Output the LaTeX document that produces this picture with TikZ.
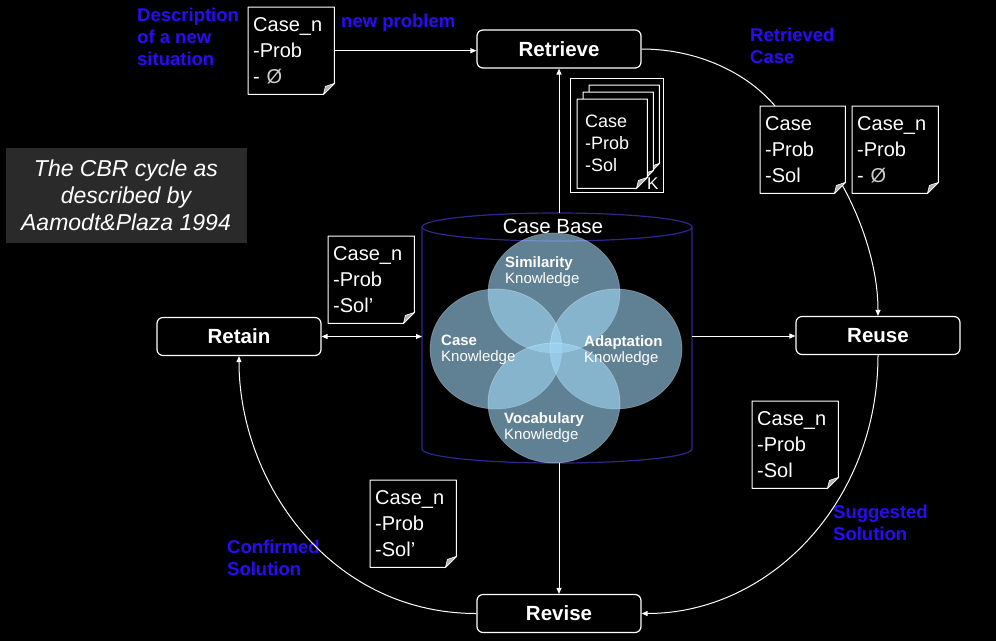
\documentclass[tikz,border=0pt]{standalone}
\usepackage{fontspec}
\setmainfont{Liberation Sans}
\usepackage{xcolor}
\usetikzlibrary{arrows.meta}
\usetikzlibrary{positioning}

\definecolor{labelblue}{RGB}{45,10,245}
\definecolor{basenavy}{RGB}{45,40,140}
\definecolor{knowblue}{RGB}{160,215,245}
\definecolor{titlegray}{RGB}{42,42,42}

\tikzset{
  phase/.style={draw=white, line width=1.2pt, rounded corners=6pt, fill=black, text=white,
    minimum width=164pt, minimum height=38pt, font=\fontsize{20.5}{24}\selectfont\bfseries},
  casedoc/.style={anchor=north west, fill=black, minimum width=86pt, minimum height=87pt,
    text width=76pt, inner xsep=5pt, inner ysep=0pt, align=left, text=white,
    font=\fontsize{20}{26}\selectfont},
  stackdoc/.style={anchor=north west, fill=black, minimum width=70pt, minimum height=89pt,
    text width=54pt, inner xsep=8pt, inner ysep=0pt, align=left, text=white,
    font=\fontsize{18}{22}\selectfont},
  bluelabel/.style={anchor=north west, inner sep=0pt, align=left, text=labelblue,
    font=\fontsize{18.5}{22}\selectfont\bfseries},
  know/.style={anchor=north west, inner sep=0pt, align=left, text=white,
    font=\fontsize{15}{16}\selectfont},
  knowball/.style={fill=knowblue, fill opacity=.6, draw=white, draw opacity=.3, line width=.7pt},
  flow/.style={draw=white, line width=1pt, -{Triangle[length=6pt,width=5pt]}},
}

% folded outline of a case sheet
\newcommand{\docedge}[1]{%
  \draw[white, line width=1pt, line join=round] (#1.north west) -- (#1.north east)
    -- ([yshift=11pt]#1.south east) -- ([xshift=-11pt]#1.south east) -- (#1.south west) -- cycle;
  \filldraw[fill=white!70!black, draw=white, line width=.6pt] ([yshift=11pt]#1.south east)
    -- ([xshift=-9pt,yshift=8pt]#1.south east) -- ([xshift=-11pt]#1.south east) -- cycle;
}
\newcommand{\emptysol}{{\color{white!80!black}Ø}}

\begin{document}
\begin{tikzpicture}[x=1pt,y=-1pt]
  \fill[black] (0,0) rectangle (996,641);

  % title
  \node[fill=titlegray, minimum width=241pt, minimum height=95pt, inner sep=0pt, align=center,
    text=white, font=\fontsize{23}{27}\selectfont\itshape] (title) at (126,195)
    {The CBR cycle as\\described by\\Aamodt\&Plaza 1994};

  % the four steps
  \node[phase] (retrieve) at (559,49) {Retrieve};
  \node[phase] (reuse) at (878,335.5) {Reuse};
  \node[phase] (revise) at (559,613.5) {Revise};
  \node[phase] (retain) at (239,336.5) {Retain};

  % case base
  \draw[basenavy, line width=1.2pt] (422,227) -- (422,449)
    arc[start angle=180, end angle=360, x radius=135pt, y radius=14pt] -- (692,227);
  \draw[basenavy, line width=1.2pt] (557,227) ellipse[x radius=135pt, y radius=14pt];
  \coordinate (cbtop) at (559,213);
  \coordinate (cbbot) at (559,463);
  \coordinate (cbleft) at (422,336);
  \coordinate (cbright) at (692,336);
  \node[text=white, font=\fontsize{20.5}{24}\selectfont] (cbname) at (553,226) {Case Base};

  \path[knowball] (554,293) ellipse[x radius=66pt, y radius=60pt];
  \path[knowball] (496,349) ellipse[x radius=66pt, y radius=60pt];
  \path[knowball] (616,349) ellipse[x radius=66pt, y radius=60pt];
  \path[knowball] (554,403) ellipse[x radius=66pt, y radius=60pt];
  \node[know] (simk) at (505,256) {\textbf{Similarity}\\Knowledge};
  \node[know] (casek) at (441,335) {\textbf{Case}\\Knowledge};
  \node[know] (adak) at (584,335) {\textbf{Adaptation}\\Knowledge};
  \node[know] (vocak) at (504,412) {\textbf{Vocabulary}\\Knowledge};

  % case sheets
  \node[casedoc] (newcase) at (248,7) {Case\_n\\-Prob\\- \emptysol};
  \docedge{newcase}
  \node[casedoc, minimum width=85pt, text width=75pt] (retcase) at (760,106) {Case\\-Prob\\-Sol};
  \docedge{retcase}
  \node[casedoc] (inputcase) at (852,106) {Case\_n\\-Prob\\- \emptysol};
  \docedge{inputcase}
  \node[casedoc] (solcase) at (752,401) {Case\_n\\-Prob\\-Sol};
  \docedge{solcase}
  \node[casedoc] (revcase) at (370,480) {Case\_n\\-Prob\\-Sol’};
  \docedge{revcase}
  \node[casedoc] (keepcase) at (328,236) {Case\_n\\-Prob\\-Sol’};
  \docedge{keepcase}

  % stack of stored cases
  \node[draw=white, line width=1pt, minimum width=93pt, minimum height=114pt, inner sep=0pt] (stack) at (616.5,135) {};
  \node[stackdoc] (stackc) at (589,85) {};
  \docedge{stackc}
  \node[stackdoc] (stackb) at (583,92) {};
  \docedge{stackb}
  \node[stackdoc] (stacka) at (577,99) {Case\\-Prob\\-Sol};
  \docedge{stacka}
  \node[anchor=base west, inner sep=0pt, text=white, font=\fontsize{17}{20}\selectfont] (kcount) at (647,189) {K};

  % blue labels
  \node[bluelabel] (descr) at (137,8) {Description\\of a new\\situation};
  \node[bluelabel] (newprob) at (341,14) {new problem};
  \node[bluelabel] (retlab) at (750,28) {Retrieved\\Case};
  \node[bluelabel] (suglab) at (833,505) {Suggested\\Solution};
  \node[bluelabel] (conflab) at (227,540) {Confirmed\\Solution};

  % connectors
  \draw[flow] (newcase.east) -- (newcase.east -| retrieve.west);
  \draw[flow] (cbtop) -- (retrieve.south);
  \draw[white, line width=1pt] (retrieve.east) .. controls +(60,0) and +(-25,-30) .. ([xshift=15pt]retcase.north west);
  \draw[flow] ([xshift=-3pt,yshift=8pt]retcase.south east) .. controls +(22,40) and +(0,-45) .. (reuse.north);
  \draw[flow] (cbright) -- (cbright -| reuse.west);
  \draw[flow] (reuse.south) .. controls +(0,146) and +(129,0) .. (revise.east);
  \draw[flow] (cbbot) -- (revise.north);
  \draw[flow] (revise.west) .. controls +(-147,0) and +(0,125) .. (retain.south);
  \draw[flow, {Triangle[length=6pt,width=5pt]}-{Triangle[length=6pt,width=5pt]}] (retain.east) -- (retain.east -| cbleft);
\end{tikzpicture}
\end{document}
